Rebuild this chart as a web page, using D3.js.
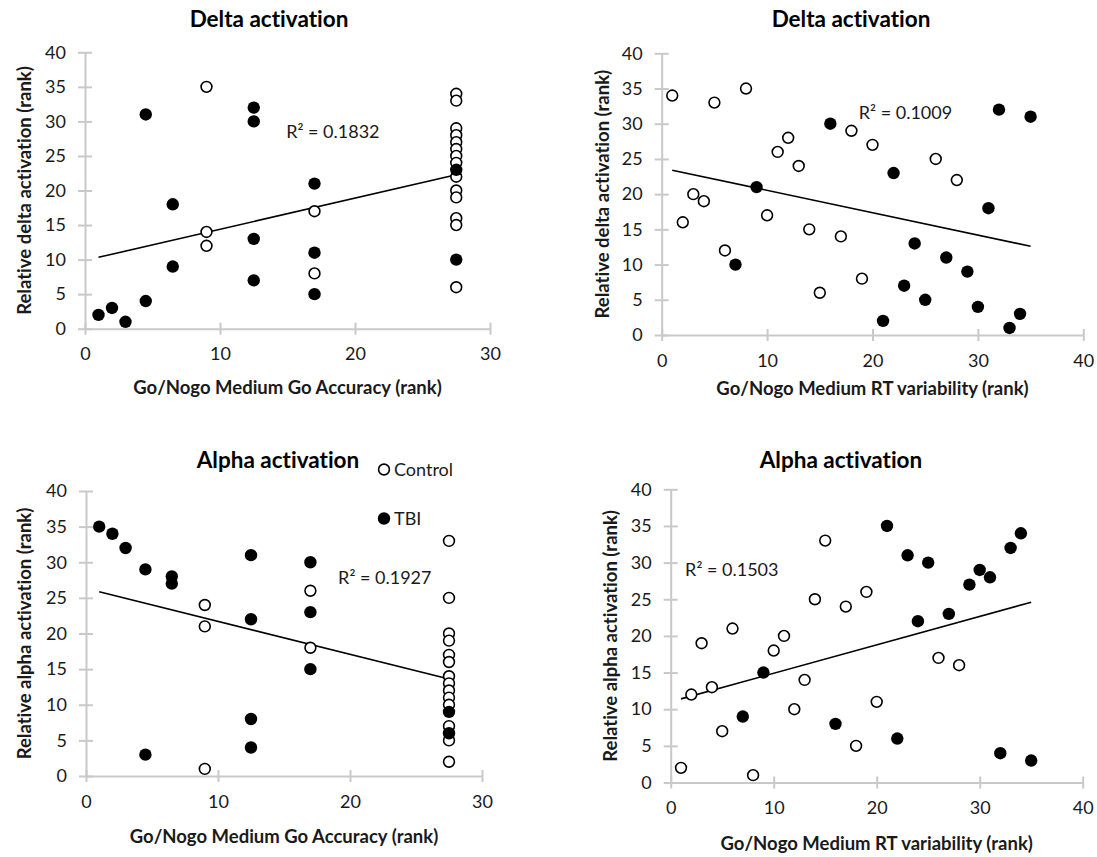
<!DOCTYPE html>
<html>
<head>
<meta charset="utf-8">
<script src="https://cdn.jsdelivr.net/npm/d3@7"></script>
<style>
  html, body { margin: 0; padding: 0; background: #ffffff; }
  svg { display: block; font-family: Lato, "Open Sans", sans-serif;
        font-variant-ligatures: none; font-feature-settings: "liga" 0, "clig" 0; }
</style>
</head>
<body>
<svg id="chart" width="1097" height="857"></svg>
<script>
// ---- Data: ranks per participant ----
// Go/Nogo medium Go accuracy (rank, ties averaged) vs relative delta activation (rank)
const deltaAccControlX = [9, 9, 9, 17, 17, 27.5, 27.5, 27.5, 27.5, 27.5, 27.5, 27.5, 27.5, 27.5, 27.5, 27.5, 27.5, 27.5, 27.5];
const deltaAccControlY = [35, 14, 12, 17, 8, 34, 33, 29, 28, 27, 26, 25, 24, 22, 20, 19, 16, 15, 6];
const deltaAccTbiX = [1, 2, 3, 4.5, 4.5, 6.5, 6.5, 12.5, 12.5, 12.5, 12.5, 17, 17, 17, 27.5, 27.5];
const deltaAccTbiY = [2, 3, 1, 4, 31, 9, 18, 32, 30, 13, 7, 21, 11, 5, 23, 10];

// Go/Nogo medium RT variability (rank) vs relative delta activation (rank)
const deltaRtControlX = [1, 2, 3, 4, 5, 6, 8, 10, 11, 12, 13, 14, 15, 17, 18, 19, 20, 26, 28];
const deltaRtControlY = [34, 16, 20, 19, 33, 12, 35, 17, 26, 28, 24, 15, 6, 14, 29, 8, 27, 25, 22];
const deltaRtTbiX = [7, 9, 16, 21, 22, 23, 24, 25, 27, 29, 30, 31, 32, 33, 34, 35];
const deltaRtTbiY = [10, 21, 30, 2, 23, 7, 13, 5, 11, 9, 4, 18, 32, 1, 3, 31];

// Go accuracy (rank) vs relative alpha activation (rank)
const alphaAccControlX = [9, 9, 9, 17, 17, 27.5, 27.5, 27.5, 27.5, 27.5, 27.5, 27.5, 27.5, 27.5, 27.5, 27.5, 27.5, 27.5, 27.5];
const alphaAccControlY = [24, 21, 1, 26, 18, 33, 25, 20, 19, 17, 16, 14, 13, 12, 11, 10, 7, 5, 2];
const alphaAccTbiX = [1, 2, 3, 4.5, 4.5, 6.5, 6.5, 12.5, 12.5, 12.5, 12.5, 17, 17, 17, 27.5, 27.5];
const alphaAccTbiY = [35, 34, 32, 29, 3, 28, 27, 31, 22, 8, 4, 30, 23, 15, 9, 6];

// RT variability (rank) vs relative alpha activation (rank)
const alphaRtControlX = [1, 2, 3, 4, 5, 6, 8, 10, 11, 12, 13, 14, 15, 17, 18, 19, 20, 26, 28];
const alphaRtControlY = [2, 12, 19, 13, 7, 21, 1, 18, 20, 10, 14, 25, 33, 24, 5, 26, 11, 17, 16];
const alphaRtTbiX = [7, 9, 16, 21, 22, 23, 24, 25, 27, 29, 30, 31, 32, 33, 34, 35];
const alphaRtTbiY = [9, 15, 8, 35, 6, 31, 22, 30, 23, 27, 29, 28, 4, 32, 34, 3];

// Titles, axis labels, tick values and fit labels
const panelTitles = ["Delta activation", "Delta activation", "Alpha activation", "Alpha activation"];
const xAxisTitles = ["Go/Nogo Medium Go Accuracy (rank)", "Go/Nogo Medium RT variability (rank)",
                     "Go/Nogo Medium Go Accuracy (rank)", "Go/Nogo Medium RT variability (rank)"];
const yAxisTitles = ["Relative delta activation (rank)", "Relative delta activation (rank)",
                     "Relative alpha activation (rank)", "Relative alpha activation (rank)"];
const yTicks = [0, 5, 10, 15, 20, 25, 30, 35, 40];
const xTicksAcc = [0, 10, 20, 30];
const xTicksRt = [0, 10, 20, 30, 40];
const r2Labels = ["R² = 0.1832", "R² = 0.1009", "R² = 0.1927", "R² = 0.1503"];
const legendLabels = ["Control", "TBI"];

// ---- Layout of the four panels ----
const panels = [
  { ctrlX: deltaAccControlX, ctrlY: deltaAccControlY, tbiX: deltaAccTbiX, tbiY: deltaAccTbiY,
    xDom: [0, 30], xTicks: xTicksAcc, xr: [85, 490], yr: [328.7, 52.3],
    titleX: 269, titleY: 26.5, yTitleX: 25, xTitleY: 394, r2At: [14.9, 28.5] },
  { ctrlX: deltaRtControlX, ctrlY: deltaRtControlY, tbiX: deltaRtTbiX, tbiY: deltaRtTbiY,
    xDom: [0, 40], xTicks: xTicksRt, xr: [661.7, 1083.3], yr: [335, 53.3],
    titleX: 851, titleY: 26.5, yTitleX: 603, xTitleY: 395, r2At: [18.7, 31.6] },
  { ctrlX: alphaAccControlX, ctrlY: alphaAccControlY, tbiX: alphaAccTbiX, tbiY: alphaAccTbiY,
    xDom: [0, 30], xTicks: xTicksAcc, xr: [86, 482], yr: [776, 491],
    titleX: 278, titleY: 468, yTitleX: 25, xTitleY: 843, r2At: [19.1, 27.9] },
  { ctrlX: alphaRtControlX, ctrlY: alphaRtControlY, tbiX: alphaRtTbiX, tbiY: alphaRtTbiY,
    xDom: [0, 40], xTicks: xTicksRt, xr: [670.7, 1082.7], yr: [782.5, 489.3],
    titleX: 841, titleY: 468, yTitleX: 611, xTitleY: 850, r2At: [1.4, 29.0] }
];

const svg = d3.select("#chart");
svg.append("rect").attr("width", 1097).attr("height", 857).attr("fill", "#ffffff");

const axisColor = "#c9c9c9";
const tickFont = 18;
const titleFont = 22.5;
const axisTitleFont = 18.5;

// Ordinary least squares fit
function linearFit(xs, ys) {
  const n = xs.length;
  const mx = d3.mean(xs), my = d3.mean(ys);
  let sxy = 0, sxx = 0;
  for (let i = 0; i < n; i++) { sxy += (xs[i] - mx) * (ys[i] - my); sxx += (xs[i] - mx) ** 2; }
  const slope = sxy / sxx;
  return { slope, intercept: my - slope * mx };
}

panels.forEach((p, i) => {
  const x = d3.scaleLinear().domain(p.xDom).range(p.xr);
  const y = d3.scaleLinear().domain([0, 40]).range(p.yr);
  const g = svg.append("g");

  // Y axis: line, crossing ticks, labels
  const yAxis = d3.axisLeft(y).tickValues(yTicks).tickSizeInner(7).tickSizeOuter(0).tickPadding(12);
  const ya = g.append("g").attr("transform", `translate(${x(0)},0)`).call(yAxis);
  ya.select(".domain").attr("stroke", axisColor).attr("stroke-width", 2);
  ya.selectAll(".tick line").attr("stroke", axisColor).attr("stroke-width", 2).attr("x2", 7).attr("x1", -7);
  ya.selectAll(".tick text").attr("font-size", tickFont).attr("fill", "#1a1a1a").attr("font-family", "Lato, sans-serif");

  // X axis
  const xAxis = d3.axisBottom(x).tickValues(p.xTicks).tickSizeInner(6).tickSizeOuter(0).tickPadding(13);
  const xa = g.append("g").attr("transform", `translate(0,${y(0)})`).call(xAxis);
  xa.select(".domain").attr("stroke", axisColor).attr("stroke-width", 2);
  xa.selectAll(".tick line").attr("stroke", axisColor).attr("stroke-width", 2).attr("y1", -6).attr("y2", 6);
  xa.selectAll(".tick text").attr("font-size", tickFont).attr("fill", "#1a1a1a").attr("font-family", "Lato, sans-serif");

  // Titles
  g.append("text").attr("x", p.titleX).attr("y", p.titleY).attr("text-anchor", "middle")
    .attr("font-size", titleFont).attr("font-weight", "bold").attr("fill", "#000").text(panelTitles[i]);
  g.append("text").attr("x", (p.xr[0] + p.xr[1]) / 2).attr("y", p.xTitleY).attr("text-anchor", "middle")
    .attr("font-size", axisTitleFont).attr("font-weight", "bold").attr("fill", "#1a1a1a").text(xAxisTitles[i]);
  const yMid = (p.yr[0] + p.yr[1]) / 2;
  g.append("text").attr("transform", `translate(${p.yTitleX},${yMid}) rotate(-90)`)
    .attr("text-anchor", "middle").attr("dy", "0.35em")
    .attr("font-size", axisTitleFont).attr("font-weight", "bold").attr("fill", "#1a1a1a").text(yAxisTitles[i]);

  // Linear trendline across all participants
  const allX = p.ctrlX.concat(p.tbiX), allY = p.ctrlY.concat(p.tbiY);
  const fit = linearFit(allX, allY);
  const [xmin, xmax] = d3.extent(allX);
  g.append("line")
    .attr("x1", x(xmin)).attr("y1", y(fit.intercept + fit.slope * xmin))
    .attr("x2", x(xmax)).attr("y2", y(fit.intercept + fit.slope * xmax))
    .attr("stroke", "#000").attr("stroke-width", 1.6);

  // Points: control (open), TBI (filled)
  g.append("g").selectAll("circle").data(d3.range(p.ctrlX.length)).join("circle")
    .attr("cx", k => x(p.ctrlX[k])).attr("cy", k => y(p.ctrlY[k])).attr("r", 5.4)
    .attr("fill", "#fff").attr("stroke", "#000").attr("stroke-width", 1.6);
  g.append("g").selectAll("circle").data(d3.range(p.tbiX.length)).join("circle")
    .attr("cx", k => x(p.tbiX[k])).attr("cy", k => y(p.tbiY[k])).attr("r", 6.2)
    .attr("fill", "#000");

  // R² label
  g.append("text").attr("x", x(p.r2At[0])).attr("y", y(p.r2At[1])).attr("dy", "0.35em")
    .attr("font-size", tickFont).attr("fill", "#1a1a1a").text(r2Labels[i]);
});

// Legend (beside the lower-left panel title)
const legend = svg.append("g");
const legendPos = [[384, 469.5], [384, 518.5]];
legendLabels.forEach((lab, k) => {
  const [lx, ly] = legendPos[k];
  legend.append("circle").attr("cx", lx).attr("cy", ly).attr("r", k === 0 ? 5.4 : 6.2)
    .attr("fill", k === 0 ? "#fff" : "#000").attr("stroke", "#000").attr("stroke-width", k === 0 ? 1.6 : 0);
  legend.append("text").attr("x", lx + 10).attr("y", ly).attr("dy", "0.35em")
    .attr("font-size", tickFont).attr("fill", "#1a1a1a").text(lab);
});
</script>
</body>
</html>
